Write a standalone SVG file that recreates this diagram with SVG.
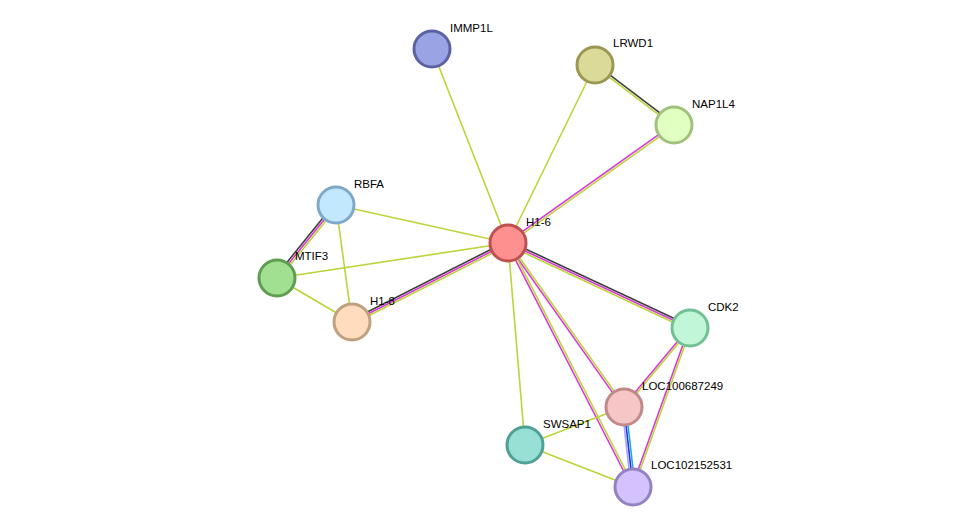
<svg xmlns="http://www.w3.org/2000/svg" width="975" height="532" viewBox="0 0 975 532">
<style>
.yg{stroke:#bcd43a;stroke-width:1.6;fill:none}
.mg{stroke:#d63ad6;stroke-width:1.6;fill:none}
.bk{stroke:#404040;stroke-width:1.6;fill:none}
.lb{stroke:#9aa8ff;stroke-width:1.6}
.bl{stroke:#2a2ae0;stroke-width:1.6}
.cy{stroke:#22a8d8;stroke-width:1.6}
.n circle{stroke-width:3}
text{font-family:"Liberation Sans",Arial,sans-serif;font-size:11.5px;fill:#000}
</style>
<rect width="975" height="532" fill="#fff"/>
<g id="edges">
<line class="yg" x1="508" y1="243" x2="432" y2="49"/>
<line class="yg" x1="508" y1="243" x2="595" y2="65"/>
<line class="bk" x1="595.6" y1="64.2" x2="674.6" y2="124.2"/>
<line class="yg" x1="594.4" y1="65.8" x2="673.4" y2="125.8"/>
<line class="mg" x1="507.4" y1="242.2" x2="673.4" y2="124.2"/>
<line class="yg" x1="508.6" y1="243.8" x2="674.6" y2="125.8"/>
<line class="yg" x1="508" y1="243" x2="336" y2="205"/>
<line class="yg" x1="508" y1="243" x2="277" y2="278"/>
<line class="bk" x1="507.1" y1="241.2" x2="351.1" y2="320.2"/>
<line class="mg" x1="508" y1="243" x2="352" y2="322"/>
<line class="yg" x1="508.9" y1="244.8" x2="352.9" y2="323.8"/>
<line class="bk" x1="334.4" y1="203.7" x2="275.4" y2="276.7"/>
<line class="mg" x1="336" y1="205" x2="277" y2="278"/>
<line class="yg" x1="337.6" y1="206.3" x2="278.6" y2="279.3"/>
<line class="yg" x1="336" y1="205" x2="352" y2="322"/>
<line class="yg" x1="277" y1="278" x2="352" y2="322"/>
<line class="bk" x1="508.9" y1="241.2" x2="690.9" y2="326.2"/>
<line class="mg" x1="508" y1="243" x2="690" y2="328"/>
<line class="yg" x1="507.1" y1="244.8" x2="689.1" y2="329.8"/>
<line class="mg" x1="507.2" y1="243.6" x2="623.2" y2="407.6"/>
<line class="yg" x1="508.8" y1="242.4" x2="624.8" y2="406.4"/>
<line class="mg" x1="507.1" y1="243.5" x2="632.1" y2="487.5"/>
<line class="yg" x1="508.9" y1="242.5" x2="633.9" y2="486.5"/>
<line class="yg" x1="508" y1="243" x2="525" y2="445"/>
<line class="mg" x1="689.2" y1="327.4" x2="623.2" y2="406.4"/>
<line class="yg" x1="690.8" y1="328.6" x2="624.8" y2="407.6"/>
<line class="mg" x1="689.1" y1="327.7" x2="632.1" y2="486.7"/>
<line class="yg" x1="690.9" y1="328.3" x2="633.9" y2="487.3"/>
<line class="lb" x1="622" y1="407" x2="631" y2="487"/>
<line class="bl" x1="624" y1="407" x2="633" y2="487"/>
<line class="cy" x1="626" y1="407" x2="635" y2="487"/>
<line class="yg" x1="525" y1="445" x2="624" y2="407"/>
<line class="yg" x1="525" y1="445" x2="633" y2="487"/>
</g>
<g id="IMMP1L" class="n"><circle cx="432" cy="49" r="18" fill="#9aa4e4" stroke="#5a62a2"/><text x="450" y="32">IMMP1L</text></g>
<g id="LRWD1" class="n"><circle cx="595" cy="65" r="18" fill="#dcda98" stroke="#9a9852"/><text x="613" y="47">LRWD1</text></g>
<g id="NAP1L4" class="n"><circle cx="674" cy="125" r="18" fill="#e0ffc0" stroke="#a2c07e"/><text x="692" y="108">NAP1L4</text></g>
<g id="RBFA" class="n"><circle cx="336" cy="205" r="18" fill="#c2e8fe" stroke="#80a8c8"/><text x="354" y="188">RBFA</text></g>
<g id="MTIF3" class="n"><circle cx="277" cy="278" r="18" fill="#a0e090" stroke="#5f9e50"/><text x="295" y="260">MTIF3</text></g>
<g id="H1-8" class="n"><circle cx="352" cy="322" r="18" fill="#ffdcbe" stroke="#bfa07e"/><text x="370" y="305">H1-8</text></g>
<g id="H1-6" class="n"><circle cx="508" cy="243" r="18" fill="#ff9090" stroke="#c05050"/><text x="526" y="226">H1-6</text></g>
<g id="CDK2" class="n"><circle cx="690" cy="328" r="18" fill="#c2f6d8" stroke="#72c094"/><text x="708" y="311">CDK2</text></g>
<g id="LOC100687249" class="n"><circle cx="624" cy="407" r="18" fill="#f6c6c6" stroke="#c08a8a"/><text x="642" y="390">LOC100687249</text></g>
<g id="SWSAP1" class="n"><circle cx="525" cy="445" r="18" fill="#98e0d6" stroke="#50a098"/><text x="543" y="428">SWSAP1</text></g>
<g id="LOC102152531" class="n"><circle cx="633" cy="487" r="18" fill="#d4c2ff" stroke="#9282c2"/><text x="651" y="469">LOC102152531</text></g>
</svg>
